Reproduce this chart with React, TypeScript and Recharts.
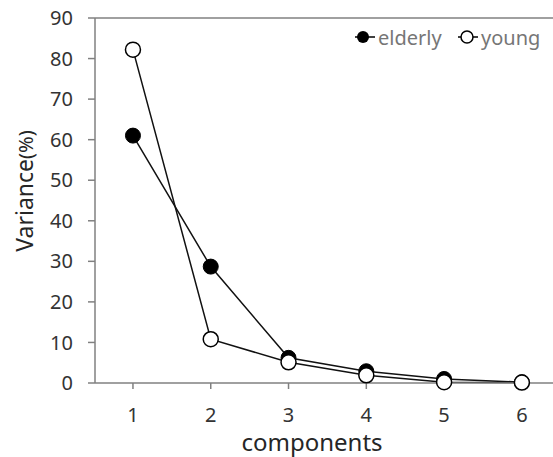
import React from "react"
import { LineChart, Line, XAxis, YAxis, ReferenceLine, Legend } from "recharts"

const components = [1, 2, 3, 4, 5, 6]
const elderly = [61.0, 28.7, 6.2, 2.9, 1.0, 0.2]
const young = [82.2, 10.8, 5.1, 1.9, 0.2, 0.1]
const yTicks = [0, 10, 20, 30, 40, 50, 60, 70, 80, 90]

const data = components.map((c, i) => ({ c, elderly: elderly[i], young: young[i] }))

const FONT = "'Noto Sans', 'Open Sans', sans-serif"
const AXIS = "#808080"

const renderYLabel = () => (
    <text x={33} y={191} transform="rotate(-90, 33, 191)" textAnchor="middle" fontFamily={FONT} fill="#262626">
        <tspan fontSize={23}>Variance</tspan>
        <tspan fontSize={20}>(%)</tspan>
    </text>
)

const renderXLabel = () => (
    <text x={312} y={451} textAnchor="middle" fontFamily={FONT} fontSize={24} fill="#262626">
        components
    </text>
)

const renderLegend = () => (
    <svg width={553} height={60} style={{ display: "block" }}>
        <line x1={355} x2={375} y1={37} y2={37} stroke="#000" strokeWidth={1.5} />
        <circle cx={363} cy={37} r={6} fill="#000" />
        <text x={378} y={45} fontFamily={FONT} fontSize={20} fill="#767676">elderly</text>
        <line x1={458} x2={478} y1={37} y2={37} stroke="#000" strokeWidth={1.5} />
        <circle cx={467} cy={37} r={6} fill="#fff" stroke="#000" strokeWidth={1.5} />
        <text x={481} y={45} fontFamily={FONT} fontSize={20} fill="#767676">young</text>
    </svg>
)

const App = () => (
    <div style={{ position: "absolute", left: 0, top: 0, background: "#fff" }}>
        <LineChart width={553} height={457} data={data} margin={{ top: 18, right: 0, bottom: 0, left: 0 }}>
            <XAxis
                dataKey="c"
                type="number"
                domain={[0.512, 6.4]}
                ticks={components}
                allowDataOverflow
                height={74}
                tickSize={6}
                tickMargin={19}
                stroke={AXIS}
                strokeWidth={1.5}
                tick={{ fill: "#333", fontSize: 20, fontFamily: FONT }}
                label={{ content: renderXLabel }}
            />
            <YAxis
                type="number"
                domain={[0, 90]}
                ticks={yTicks}
                width={95}
                tickSize={7}
                tickMargin={15}
                stroke={AXIS}
                strokeWidth={1.5}
                tick={{ fill: "#333", fontSize: 20, fontFamily: FONT }}
                label={{ content: renderYLabel }}
            />
            <ReferenceLine y={90} stroke={AXIS} strokeWidth={1.5} />
            <Legend
                layout="horizontal"
                verticalAlign="middle"
                content={renderLegend}
                wrapperStyle={{ position: "absolute", left: 0, top: 0, width: 553, height: 60 }}
            />
            <Line
                dataKey="elderly"
                type="linear"
                stroke="#111"
                strokeWidth={1.5}
                dot={{ r: 7.5, fill: "#000", stroke: "#000", strokeWidth: 1 }}
                activeDot={false}
                isAnimationActive={false}
            />
            <Line
                dataKey="young"
                type="linear"
                stroke="#111"
                strokeWidth={1.5}
                dot={{ r: 7.5, fill: "#fff", stroke: "#000", strokeWidth: 1.5 }}
                activeDot={false}
                isAnimationActive={false}
            />
        </LineChart>
    </div>
)

export default App
